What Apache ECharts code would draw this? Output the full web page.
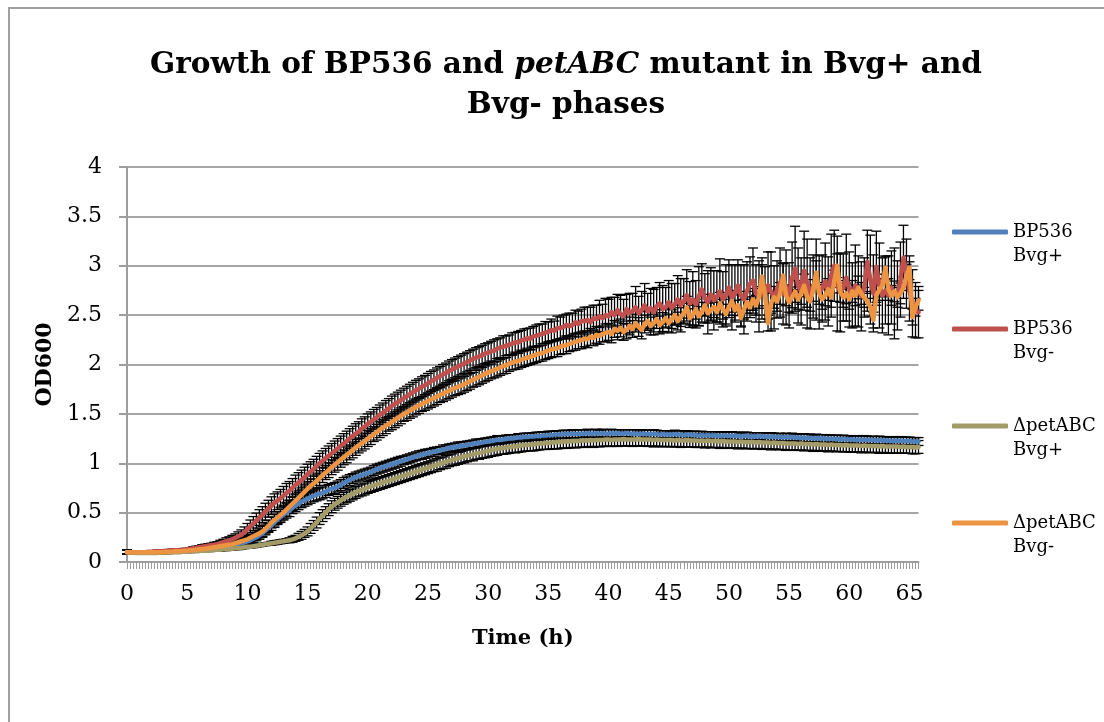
<!DOCTYPE html>
<html>
<head>
<meta charset="utf-8">
<script src="https://cdn.jsdelivr.net/npm/echarts@6/dist/echarts.min.js"></script>
<style>
  html, body { margin: 0; padding: 0; background: #fff; }
  #chart { width: 1104px; height: 722px; }
</style>
</head>
<body>
<div id="chart"></div>
<script>
// Readings taken every 15 min, from 0 h to 65.75 h (264 samples per strain).
const SAMPLE_STEP_H = 0.25;
const SAMPLE_COUNT = 264;

const seriesNames = ['BP536\nBvg+', 'BP536\nBvg-', '\u0394petABC\nBvg+', '\u0394petABC\nBvg-'];

// OD600, BP536 Bvg+
const bp536Plus = [
  0.10,0.10,0.10,0.10, 0.10,0.10,0.10,0.10, 0.10,0.10,0.10,0.10, 0.105,0.105,0.105,0.11, 0.11,0.11,0.115,0.115,
  0.12,0.12,0.125,0.125, 0.13,0.13,0.135,0.135, 0.14,0.145,0.15,0.155, 0.16,0.165,0.17,0.175, 0.18,0.185,0.19,0.20,
  0.21,0.22,0.235,0.25, 0.27,0.29,0.32,0.345, 0.37,0.40,0.43,0.455, 0.48,0.50,0.52,0.55, 0.57,0.59,0.61,0.625,
  0.64,0.655,0.67,0.68, 0.69,0.70,0.715,0.73, 0.74,0.75,0.765,0.78, 0.80,0.815,0.83,0.845, 0.86,0.87,0.88,0.89,
  0.90,0.91,0.925,0.94, 0.95,0.96,0.97,0.98, 0.99,1.00,1.01,1.02, 1.03,1.04,1.05,1.06, 1.07,1.08,1.085,1.095,
  1.10,1.11,1.115,1.125, 1.13,1.14,1.145,1.155, 1.16,1.165,1.17,1.175, 1.18,1.185,1.19,1.195, 1.20,1.205,1.21,1.215,
  1.22,1.225,1.23,1.235, 1.235,1.24,1.245,1.25, 1.25,1.255,1.26,1.26, 1.265,1.265,1.27,1.27, 1.275,1.275,1.28,1.28,
  1.285,1.285,1.29,1.29, 1.29,1.295,1.295,1.295, 1.30,1.295,1.30,1.30, 1.30,1.305,1.30,1.30, 1.305,1.30,1.305,1.30,
  1.30,1.305,1.30,1.305, 1.30,1.30,1.305,1.30, 1.30,1.30,1.295,1.30, 1.30,1.295,1.295,1.30, 1.295,1.29,1.295,1.29,
  1.29,1.29,1.295,1.29, 1.29,1.285,1.29,1.29, 1.285,1.285,1.28,1.285, 1.28,1.285,1.28,1.28, 1.28,1.275,1.28,1.28,
  1.275,1.28,1.275,1.275, 1.27,1.275,1.275,1.27, 1.27,1.27,1.275,1.27, 1.27,1.265,1.27,1.265, 1.265,1.265,1.26,1.265,
  1.26,1.265,1.26,1.26, 1.255,1.26,1.255,1.255, 1.25,1.255,1.25,1.25, 1.25,1.245,1.25,1.245, 1.245,1.24,1.245,1.24,
  1.24,1.24,1.235,1.24, 1.235,1.24,1.235,1.235, 1.235,1.23,1.235,1.23, 1.23,1.23,1.225,1.23, 1.225,1.23,1.225,1.225,
  1.225,1.22,1.22,1.22
];

// OD600, BP536 Bvg-
const bp536Minus = [
  0.10,0.10,0.10,0.10, 0.10,0.10,0.10,0.105, 0.105,0.105,0.11,0.11, 0.11,0.115,0.115,0.12, 0.12,0.12,0.125,0.125,
  0.13,0.135,0.14,0.145, 0.15,0.155,0.16,0.165, 0.17,0.175,0.18,0.19, 0.20,0.21,0.22,0.23, 0.245,0.26,0.275,0.30,
  0.33,0.36,0.39,0.42, 0.45,0.48,0.51,0.54, 0.57,0.60,0.62,0.645, 0.67,0.70,0.72,0.75, 0.78,0.805,0.83,0.86,
  0.89,0.915,0.94,0.97, 1.00,1.025,1.05,1.075, 1.10,1.125,1.15,1.175, 1.20,1.225,1.25,1.275, 1.30,1.32,1.35,1.37,
  1.40,1.42,1.445,1.465, 1.49,1.51,1.535,1.555, 1.58,1.60,1.62,1.64, 1.66,1.68,1.70,1.72, 1.74,1.755,1.775,1.79,
  1.81,1.83,1.845,1.865, 1.88,1.90,1.915,1.935, 1.95,1.965,1.98,1.995, 2.01,2.025,2.04,2.055, 2.07,2.08,2.095,2.11,
  2.12,2.135,2.14,2.16, 2.17,2.18,2.19,2.20, 2.21,2.225,2.225,2.245, 2.25,2.265,2.26,2.285, 2.29,2.30,2.31,2.325,
  2.33,2.35,2.34,2.37, 2.37,2.38,2.40,2.39, 2.40,2.43,2.41,2.44, 2.44,2.45,2.43,2.47, 2.46,2.49,2.47,2.50,
  2.49,2.53,2.50,2.55, 2.51,2.49,2.56,2.52, 2.54,2.58,2.52,2.55, 2.60,2.54,2.57,2.53, 2.59,2.62,2.56,2.58,
  2.63,2.57,2.61,2.66, 2.60,2.64,2.70,2.62, 2.66,2.61,2.69,2.76, 2.67,2.63,2.71,2.65, 2.69,2.74,2.66,2.70,
  2.78,2.68,2.72,2.80, 2.70,2.66,2.74,2.82, 2.85,2.72,2.69,2.77, 2.71,2.80,2.74,2.68, 2.76,2.83,2.72,2.78,
  2.70,2.88,2.97,2.80, 2.74,2.95,2.82,2.72, 2.79,2.86,2.73,2.77, 2.84,2.74,2.90,3.00, 2.82,2.73,2.78,2.88,
  2.76,2.70,2.80,2.74, 2.69,2.78,3.04,2.86, 2.72,2.99,2.80,2.70, 2.75,2.70,2.78,2.72, 2.70,2.86,3.08,2.92,
  2.74,2.62,2.55,2.53
];

// OD600, petABC deletion mutant Bvg+
const petPlus = [
  0.10,0.095,0.095,0.09, 0.09,0.09,0.09,0.09, 0.09,0.09,0.09,0.095, 0.095,0.095,0.095,0.10, 0.10,0.10,0.10,0.105,
  0.105,0.105,0.11,0.11, 0.11,0.115,0.115,0.115, 0.12,0.12,0.125,0.125, 0.13,0.13,0.135,0.135, 0.14,0.14,0.145,0.15,
  0.155,0.155,0.16,0.165, 0.17,0.175,0.18,0.185, 0.19,0.195,0.20,0.205, 0.21,0.215,0.22,0.23, 0.24,0.255,0.27,0.29,
  0.31,0.34,0.37,0.40, 0.44,0.47,0.50,0.53, 0.56,0.585,0.605,0.625, 0.645,0.66,0.675,0.69, 0.705,0.72,0.73,0.74,
  0.755,0.765,0.775,0.785, 0.795,0.805,0.815,0.825, 0.835,0.845,0.855,0.865, 0.875,0.885,0.895,0.905, 0.915,0.925,0.935,0.945,
  0.955,0.965,0.975,0.985, 0.995,1.005,1.015,1.025, 1.035,1.045,1.05,1.06, 1.07,1.075,1.085,1.09, 1.10,1.105,1.11,1.12,
  1.125,1.13,1.14,1.145, 1.15,1.155,1.16,1.165, 1.17,1.17,1.175,1.18, 1.185,1.185,1.19,1.19, 1.195,1.20,1.20,1.205,
  1.205,1.21,1.21,1.215, 1.215,1.22,1.22,1.22, 1.225,1.225,1.225,1.23, 1.23,1.23,1.235,1.23, 1.235,1.235,1.235,1.24,
  1.24,1.235,1.24,1.24, 1.24,1.245,1.24,1.24, 1.24,1.24,1.245,1.24, 1.24,1.24,1.24,1.235, 1.24,1.235,1.235,1.235,
  1.235,1.235,1.23,1.235, 1.23,1.23,1.235,1.23, 1.23,1.23,1.225,1.23, 1.225,1.23,1.225,1.225, 1.225,1.22,1.225,1.22,
  1.22,1.22,1.22,1.215, 1.22,1.215,1.215,1.215, 1.215,1.21,1.215,1.21, 1.21,1.21,1.205,1.21, 1.205,1.205,1.205,1.20,
  1.20,1.20,1.20,1.195, 1.20,1.195,1.195,1.195, 1.19,1.195,1.19,1.19, 1.19,1.185,1.19,1.185, 1.185,1.185,1.18,1.185,
  1.18,1.18,1.18,1.18, 1.175,1.18,1.175,1.175, 1.175,1.175,1.17,1.175, 1.17,1.17,1.17,1.17, 1.17,1.165,1.17,1.165,
  1.165,1.165,1.16,1.165
];

// OD600, petABC deletion mutant Bvg-
const petMinus = [
  0.10,0.10,0.10,0.10, 0.10,0.10,0.10,0.10, 0.10,0.10,0.10,0.10, 0.10,0.105,0.105,0.105, 0.11,0.11,0.11,0.115,
  0.115,0.12,0.12,0.125, 0.13,0.13,0.135,0.14, 0.145,0.15,0.155,0.16, 0.165,0.17,0.175,0.18, 0.19,0.20,0.21,0.22,
  0.23,0.245,0.26,0.275, 0.29,0.31,0.335,0.365, 0.40,0.425,0.45,0.475, 0.50,0.53,0.56,0.59, 0.62,0.65,0.68,0.71,
  0.74,0.77,0.795,0.82, 0.85,0.88,0.905,0.93, 0.96,0.985,1.01,1.035, 1.06,1.085,1.11,1.135, 1.16,1.18,1.205,1.225,
  1.25,1.27,1.295,1.315, 1.34,1.36,1.38,1.40, 1.42,1.44,1.46,1.48, 1.50,1.515,1.535,1.55, 1.57,1.585,1.60,1.615,
  1.63,1.645,1.66,1.675, 1.69,1.705,1.72,1.735, 1.75,1.76,1.775,1.785, 1.80,1.815,1.83,1.845, 1.86,1.875,1.89,1.905,
  1.92,1.93,1.945,1.955, 1.97,1.985,1.99,2.01, 2.02,2.03,2.035,2.05, 2.06,2.07,2.075,2.09, 2.10,2.11,2.115,2.13,
  2.14,2.15,2.16,2.165, 2.18,2.19,2.195,2.21, 2.22,2.23,2.24,2.245, 2.26,2.255,2.28,2.27, 2.30,2.29,2.31,2.32,
  2.33,2.31,2.36,2.34, 2.37,2.33,2.35,2.39, 2.36,2.42,2.38,2.35, 2.41,2.44,2.39,2.42, 2.46,2.40,2.43,2.47,
  2.42,2.46,2.50,2.44, 2.48,2.52,2.58,2.47, 2.50,2.56,2.49,2.53, 2.60,2.52,2.55,2.58, 2.53,2.62,2.56,2.51,
  2.58,2.64,2.55,2.60, 2.47,2.56,2.63,2.58, 2.66,2.60,2.68,2.89, 2.70,2.42,2.62,2.68, 2.64,2.72,2.90,2.70,
  2.63,2.68,2.74,2.66, 2.72,2.80,2.68,2.64, 2.75,2.93,2.72,2.66, 2.70,2.76,2.68,2.84, 3.00,2.74,2.68,2.72,
  2.66,2.74,2.70,2.78, 2.72,2.68,2.64,2.58, 2.45,2.70,2.76,2.80, 2.98,2.76,2.70,2.74, 2.68,2.72,2.78,2.90,
  2.98,2.48,2.58,2.65
];

// Standard deviations for each reading
const bp536PlusErr = [
  0.02,0.01,0.01,0.01, 0.01,0.01,0.01,0.01, 0.01,0.01,0.01,0.01, 0.01,0.01,0.01,0.01, 0.01,0.01,0.01,0.01,
  0.01,0.01,0.01,0.01, 0.015,0.015,0.015,0.015, 0.015,0.015,0.02,0.02, 0.02,0.02,0.02,0.02, 0.025,0.025,0.025,0.03,
  0.03,0.03,0.035,0.035, 0.04,0.04,0.045,0.045, 0.05,0.05,0.05,0.055, 0.055,0.055,0.06,0.06, 0.06,0.06,0.06,0.06,
  0.06,0.06,0.06,0.06, 0.06,0.06,0.06,0.055, 0.055,0.055,0.055,0.055, 0.055,0.055,0.055,0.05, 0.05,0.05,0.05,0.05,
  0.05,0.05,0.05,0.05, 0.05,0.05,0.05,0.05, 0.05,0.05,0.05,0.05, 0.045,0.045,0.045,0.045, 0.045,0.045,0.045,0.045,
  0.045,0.04,0.045,0.04, 0.04,0.045,0.04,0.04, 0.04,0.04,0.045,0.04, 0.04,0.04,0.04,0.04, 0.045,0.04,0.04,0.04,
  0.04,0.04,0.04,0.045, 0.04,0.04,0.04,0.04, 0.04,0.035,0.04,0.04, 0.04,0.04,0.035,0.04, 0.04,0.04,0.04,0.035,
  0.04,0.04,0.035,0.04, 0.04,0.04,0.04,0.035, 0.04,0.04,0.04,0.04, 0.035,0.04,0.04,0.04, 0.04,0.035,0.04,0.04,
  0.04,0.04,0.04,0.035, 0.04,0.04,0.035,0.04, 0.04,0.04,0.04,0.04, 0.035,0.04,0.04,0.04, 0.04,0.04,0.035,0.04,
  0.04,0.035,0.04,0.04, 0.04,0.04,0.04,0.035, 0.04,0.04,0.04,0.04, 0.04,0.035,0.04,0.04, 0.04,0.04,0.04,0.035,
  0.04,0.04,0.04,0.04, 0.035,0.04,0.04,0.04, 0.04,0.04,0.035,0.04, 0.04,0.04,0.04,0.04, 0.035,0.04,0.04,0.04,
  0.04,0.04,0.035,0.04, 0.04,0.04,0.04,0.04, 0.035,0.04,0.04,0.04, 0.04,0.04,0.035,0.04, 0.04,0.04,0.04,0.04,
  0.04,0.035,0.04,0.04, 0.04,0.04,0.04,0.035, 0.04,0.04,0.04,0.04, 0.04,0.035,0.04,0.04, 0.04,0.04,0.04,0.04,
  0.04,0.04,0.04,0.04
];

const bp536MinusErr = [
  0.02,0.01,0.01,0.01, 0.01,0.01,0.01,0.01, 0.01,0.01,0.01,0.01, 0.01,0.01,0.01,0.01, 0.01,0.01,0.01,0.01,
  0.01,0.01,0.015,0.015, 0.015,0.02,0.02,0.02, 0.02,0.025,0.025,0.03, 0.03,0.035,0.035,0.04, 0.04,0.045,0.05,0.055,
  0.06,0.065,0.07,0.075, 0.08,0.08,0.085,0.085, 0.09,0.09,0.09,0.09, 0.095,0.095,0.095,0.095, 0.10,0.10,0.10,0.10,
  0.10,0.10,0.10,0.10, 0.10,0.10,0.10,0.10, 0.10,0.10,0.10,0.10, 0.10,0.10,0.10,0.10, 0.10,0.10,0.10,0.10,
  0.10,0.10,0.10,0.10, 0.10,0.10,0.10,0.10, 0.10,0.10,0.10,0.10, 0.10,0.10,0.10,0.10, 0.10,0.10,0.10,0.10,
  0.10,0.10,0.10,0.10, 0.10,0.10,0.10,0.10, 0.10,0.10,0.10,0.10, 0.10,0.10,0.10,0.10, 0.10,0.10,0.10,0.10,
  0.10,0.10,0.11,0.10, 0.10,0.11,0.10,0.10, 0.11,0.10,0.11,0.10, 0.11,0.10,0.11,0.10, 0.11,0.11,0.10,0.11,
  0.10,0.11,0.10,0.12, 0.11,0.12,0.11,0.13, 0.12,0.12,0.13,0.12, 0.14,0.13,0.15,0.13, 0.14,0.16,0.14,0.17,
  0.17,0.15,0.18,0.16, 0.19,0.17,0.15,0.20, 0.18,0.21,0.17,0.19, 0.22,0.18,0.20,0.23, 0.19,0.21,0.24,0.20,
  0.22,0.25,0.21,0.24, 0.27,0.23,0.26,0.22, 0.28,0.24,0.30,0.26, 0.25,0.32,0.27,0.30, 0.26,0.33,0.28,0.31,
  0.28,0.33,0.29,0.26, 0.31,0.35,0.30,0.27, 0.33,0.29,0.36,0.31, 0.28,0.34,0.40,0.32, 0.29,0.35,0.31,0.38,
  0.33,0.36,0.43,0.38, 0.34,0.40,0.45,0.36, 0.32,0.41,0.37,0.34, 0.39,0.35,0.42,0.36, 0.48,0.40,0.34,0.44,
  0.38,0.33,0.41,0.36, 0.35,0.30,0.32,0.45, 0.39,0.36,0.43,0.38, 0.34,0.40,0.37,0.46, 0.35,0.38,0.33,0.35,
  0.30,0.34,0.28,0.26
];

const petPlusErr = [
  0.02,0.01,0.01,0.01, 0.01,0.01,0.01,0.01, 0.01,0.01,0.01,0.01, 0.01,0.01,0.01,0.01, 0.01,0.01,0.01,0.01,
  0.01,0.01,0.01,0.01, 0.01,0.01,0.01,0.01, 0.01,0.01,0.015,0.015, 0.015,0.015,0.015,0.015, 0.015,0.015,0.015,0.015,
  0.015,0.015,0.015,0.015, 0.015,0.015,0.015,0.015, 0.02,0.02,0.02,0.02, 0.02,0.02,0.025,0.03, 0.03,0.035,0.04,0.04,
  0.045,0.05,0.05,0.055, 0.06,0.06,0.06,0.06, 0.06,0.06,0.06,0.06, 0.06,0.06,0.06,0.06, 0.06,0.06,0.06,0.06,
  0.06,0.06,0.06,0.06, 0.06,0.06,0.06,0.06, 0.06,0.06,0.06,0.06, 0.06,0.06,0.06,0.06, 0.06,0.06,0.06,0.06,
  0.06,0.06,0.06,0.065, 0.06,0.06,0.065,0.06, 0.06,0.065,0.06,0.06, 0.065,0.06,0.06,0.065, 0.06,0.065,0.06,0.065,
  0.065,0.06,0.065,0.065, 0.06,0.065,0.065,0.065, 0.06,0.065,0.065,0.065, 0.065,0.06,0.065,0.065, 0.065,0.065,0.06,0.065,
  0.065,0.065,0.065,0.07, 0.065,0.065,0.07,0.065, 0.065,0.07,0.065,0.065, 0.07,0.065,0.065,0.07, 0.065,0.07,0.065,0.065,
  0.07,0.065,0.065,0.07, 0.065,0.07,0.065,0.065, 0.07,0.065,0.07,0.065, 0.065,0.07,0.065,0.07, 0.065,0.065,0.07,0.065,
  0.065,0.07,0.065,0.065, 0.07,0.065,0.07,0.065, 0.065,0.07,0.065,0.065, 0.07,0.065,0.07,0.065, 0.065,0.07,0.065,0.065,
  0.07,0.065,0.065,0.07, 0.065,0.065,0.07,0.065, 0.07,0.065,0.065,0.07, 0.065,0.065,0.07,0.065, 0.065,0.07,0.065,0.07,
  0.065,0.065,0.07,0.065, 0.065,0.07,0.065,0.065, 0.07,0.065,0.065,0.07, 0.065,0.07,0.065,0.065, 0.07,0.065,0.065,0.07,
  0.065,0.07,0.065,0.065, 0.07,0.065,0.065,0.07, 0.065,0.065,0.07,0.065, 0.065,0.07,0.065,0.065, 0.07,0.065,0.065,0.065,
  0.065,0.07,0.065,0.065
];

const petMinusErr = [
  0.02,0.01,0.01,0.01, 0.01,0.01,0.01,0.01, 0.01,0.01,0.01,0.01, 0.01,0.01,0.01,0.01, 0.01,0.01,0.01,0.01,
  0.01,0.01,0.01,0.01, 0.01,0.01,0.01,0.01, 0.015,0.015,0.015,0.015, 0.015,0.015,0.02,0.02, 0.025,0.025,0.03,0.03,
  0.03,0.035,0.04,0.04, 0.045,0.05,0.05,0.055, 0.055,0.06,0.06,0.06, 0.065,0.065,0.065,0.07, 0.07,0.07,0.07,0.07,
  0.07,0.07,0.075,0.07, 0.075,0.075,0.07,0.075, 0.075,0.075,0.08,0.075, 0.075,0.08,0.075,0.08, 0.08,0.075,0.08,0.08,
  0.08,0.08,0.075,0.08, 0.08,0.08,0.08,0.075, 0.08,0.08,0.08,0.08, 0.075,0.08,0.08,0.08, 0.08,0.08,0.075,0.08,
  0.08,0.08,0.08,0.08, 0.075,0.08,0.08,0.08, 0.08,0.075,0.08,0.08, 0.08,0.08,0.08,0.075, 0.08,0.08,0.08,0.08,
  0.08,0.075,0.08,0.08, 0.08,0.08,0.08,0.08, 0.075,0.08,0.08,0.08, 0.08,0.08,0.075,0.08, 0.08,0.08,0.08,0.08,
  0.08,0.08,0.08,0.085, 0.08,0.08,0.085,0.08, 0.08,0.085,0.08,0.085, 0.08,0.085,0.085,0.08, 0.085,0.085,0.08,0.09,
  0.085,0.09,0.085,0.09, 0.09,0.085,0.09,0.09, 0.085,0.09,0.095,0.09, 0.09,0.095,0.09,0.09, 0.095,0.09,0.095,0.10,
  0.09,0.095,0.10,0.09, 0.095,0.10,0.11,0.095, 0.10,0.10,0.095,0.10, 0.11,0.10,0.10,0.105, 0.10,0.11,0.10,0.10,
  0.105,0.11,0.10,0.105, 0.09,0.10,0.11,0.105, 0.11,0.10,0.11,0.12, 0.105,0.08,0.10,0.11, 0.10,0.11,0.12,0.105,
  0.10,0.105,0.11,0.10, 0.11,0.115,0.10,0.10, 0.11,0.12,0.11,0.10, 0.105,0.11,0.10,0.115, 0.12,0.11,0.10,0.105,
  0.10,0.11,0.105,0.115, 0.11,0.10,0.10,0.09, 0.08,0.10,0.11,0.115, 0.12,0.11,0.10,0.105, 0.10,0.105,0.11,0.115,
  0.12,0.08,0.09,0.10
];

const seriesColors = ['#4F81BD', '#C0504D', '#A39B68', '#EC9442'];
const seriesValues = [bp536Plus, bp536Minus, petPlus, petMinus];
const seriesErrors = [bp536PlusErr, bp536MinusErr, petPlusErr, petMinusErr];

// Category labels: elapsed time in hours at each reading
const timeLabels = [];
for (let i = 0; i < SAMPLE_COUNT; i++) timeLabels.push(String(i * SAMPLE_STEP_H));

const SERIF = "'DejaVu Serif', 'Liberation Serif', serif";
const AXIS_GREY = '#9d9d9d';

// Vertical error bar with caps, drawn in black
function errorBarItem(params, api) {
  const idx = api.value(0);
  const lo = api.coord([idx, api.value(1)]);
  const hi = api.coord([idx, api.value(2)]);
  const half = 5;
  const style = { stroke: '#000', lineWidth: 1.3, fill: null };
  return {
    type: 'group',
    children: [
      { type: 'line', shape: { x1: hi[0], y1: hi[1], x2: lo[0], y2: lo[1] }, style: style },
      { type: 'line', shape: { x1: hi[0] - half, y1: hi[1], x2: hi[0] + half, y2: hi[1] }, style: style },
      { type: 'line', shape: { x1: lo[0] - half, y1: lo[1], x2: lo[0] + half, y2: lo[1] }, style: style }
    ]
  };
}

const series = [];
seriesNames.forEach(function (name, k) {
  const vals = seriesValues[k];
  const errs = seriesErrors[k];
  series.push({
    name: name + ' error',
    type: 'custom',
    renderItem: errorBarItem,
    encode: { x: 0, y: [1, 2] },
    data: vals.map(function (v, i) { return [i, v - errs[i], v + errs[i]]; }),
    z: 1,
    silent: true
  });
});
seriesNames.forEach(function (name, k) {
  series.push({
    name: name,
    type: 'line',
    data: seriesValues[k],
    showSymbol: false,
    symbol: 'none',
    z: 3 + k,
    color: seriesColors[k],
    lineStyle: { color: seriesColors[k], width: 4.5, cap: 'round', join: 'round' },
    silent: true
  });
});

const chart = echarts.init(document.getElementById('chart'), null, { renderer: 'canvas' });
chart.setOption({
  animation: false,
  backgroundColor: '#fff',
  graphic: [{
    type: 'rect',
    shape: { x: 9, y: 8, width: 1120, height: 740 },
    style: { fill: 'none', stroke: '#a0a0a0', lineWidth: 2 },
    silent: true
  }],
  title: {
    text: 'Growth of BP536 and {i|petABC} mutant in Bvg+ and\nBvg- phases',
    left: 561,
    top: 40,
    textAlign: 'center',
    textStyle: {
      fontFamily: SERIF, fontWeight: 'bold', fontSize: 29.5, lineHeight: 40, color: '#000',
      rich: { i: { fontFamily: SERIF, fontWeight: 'bold', fontStyle: 'italic', fontSize: 29.5, lineHeight: 40, color: '#000' } }
    }
  },
  legend: {
    orient: 'vertical',
    left: 952,
    top: 196,
    padding: 0,
    itemWidth: 56,
    itemHeight: 5,
    itemGap: 25,
    icon: 'roundRect',
    selectedMode: false,
    data: seriesNames,
    // a leading blank line puts the first line of each label level with its swatch
    formatter: function (name) { return '\n' + name; },
    textStyle: { fontFamily: SERIF, fontSize: 18, lineHeight: 24, color: '#000' }
  },
  grid: { left: 127, top: 167, right: 185.5, bottom: 160, containLabel: false },
  xAxis: {
    type: 'category',
    data: timeLabels,
    boundaryGap: false,
    axisLine: { lineStyle: { color: AXIS_GREY, width: 2 } },
    axisTick: { show: true, interval: 0, length: 7, lineStyle: { color: AXIS_GREY, width: 1 } },
    axisLabel: { interval: 19, margin: 21, fontFamily: SERIF, fontSize: 22, color: '#000' },
    splitLine: { show: false },
    name: 'Time (h)',
    nameLocation: 'middle',
    nameGap: 66,
    nameTextStyle: { fontFamily: SERIF, fontWeight: 'bold', fontSize: 21, color: '#000' }
  },
  yAxis: {
    type: 'value',
    min: 0,
    max: 4,
    interval: 0.5,
    axisLine: { show: true, lineStyle: { color: AXIS_GREY, width: 2 } },
    axisTick: { show: true, length: 8, lineStyle: { color: AXIS_GREY, width: 2 } },
    splitLine: { show: true, lineStyle: { color: '#a6a6a6', width: 2 } },
    axisLabel: { margin: 25, fontFamily: SERIF, fontSize: 22, color: '#000' },
    name: 'OD600',
    nameLocation: 'middle',
    nameGap: 70,
    nameRotate: 90,
    nameTextStyle: { fontFamily: SERIF, fontWeight: 'bold', fontSize: 22, color: '#000' }
  },
  series: series
});
</script>
</body>
</html>
